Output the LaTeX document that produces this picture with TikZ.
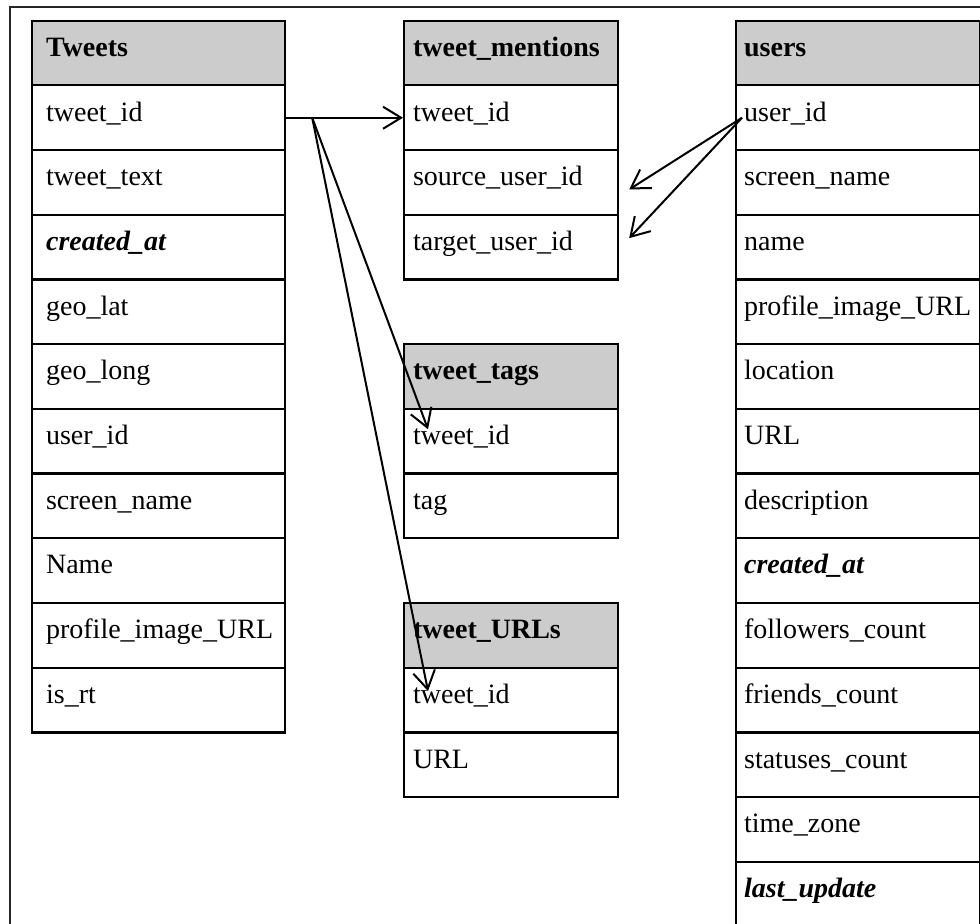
\documentclass[tikz,border=0pt]{standalone}
\usepackage{fontspec}
\setmainfont{Liberation Serif}
\usetikzlibrary{arrows.meta}
\definecolor{headgray}{RGB}{204,204,204}
\tikzset{
  cell/.style={draw, line width=1.1pt, anchor=north west, minimum height=32.35pt,
    inner ysep=0pt, text height=14pt, text depth=10.65pt, align=left,
    font=\fontsize{14}{16}\selectfont},
  hdr/.style={cell, fill=headgray, font=\fontsize{14}{16}\selectfont\bfseries},
  link/.style={line width=1pt, -{Straight Barb[length=9pt,width=11pt,line width=1pt]}},
  framestyle/.style={line width=1pt, draw=black!85},
}
% #1 name, #2 x(px), #3 y(px), #4 width(pt), #5 pad(pt), #6 header, #7 rows
\newcommand\dbtable[7]{%
  \pgfmathsetmacro\tblw{#4-2*#5}%
  \node[hdr, minimum width=#4pt, inner xsep=#5pt, text width=\tblw pt] (#1-0) at (#2,#3) {\mbox{#6}};
  \foreach \r [count=\i] in {#7} {
    \node[cell, minimum width=#4pt, inner xsep=#5pt, text width=\tblw pt] (#1-\i) at (#2,{#3+64.7*\i}) {\mbox{\r}};
  }%
}
\begin{document}
\begin{tikzpicture}[x=0.5pt,y=-0.5pt]
\useasboundingbox (0,0) rectangle (980,924);
\draw[framestyle] (10,930) -- (10,7) -- (990,7);

\dbtable{tw}{31}{19.6}{126.5}{7}{Tweets}{tweet\_id,tweet\_text,\textbf{\textit{created\_at}},geo\_lat,geo\_long,user\_id,screen\_name,Name,profile\_image\_URL,is\_rt}
\dbtable{men}{403}{19.6}{107}{4.5}{tweet\_mentions}{tweet\_id,source\_user\_id,target\_user\_id}
\dbtable{tag}{403}{343.1}{107}{4.5}{tweet\_tags}{tweet\_id,tag}
\dbtable{url}{403}{601.9}{107}{4.5}{tweet\_URLs}{tweet\_id,URL}
\dbtable{usr}{735}{19.6}{122}{4}{users}{user\_id,screen\_name,name,profile\_image\_URL,location,URL,description,\textbf{\textit{created\_at}},followers\_count,friends\_count,statuses\_count,time\_zone,\textbf{\textit{last\_update}}}

\coordinate (br) at ([xshift=13pt]tw-1.east);
\coordinate (us) at ([xshift=3.5pt]usr-1.west);
\draw[link] (tw-1.east) -- (men-1.west);
\draw[link] (br) -- ([xshift=12.5pt,yshift=6pt]tag-1.west);
\draw[link] (br) -- ([xshift=12.5pt,yshift=4.5pt]url-1.west);
\draw[link] (us) -- ([xshift=5pt,yshift=-3.5pt]men-2.east);
\draw[link] (us) -- ([xshift=5pt,yshift=4.5pt]men-3.east);
\end{tikzpicture}
\end{document}
